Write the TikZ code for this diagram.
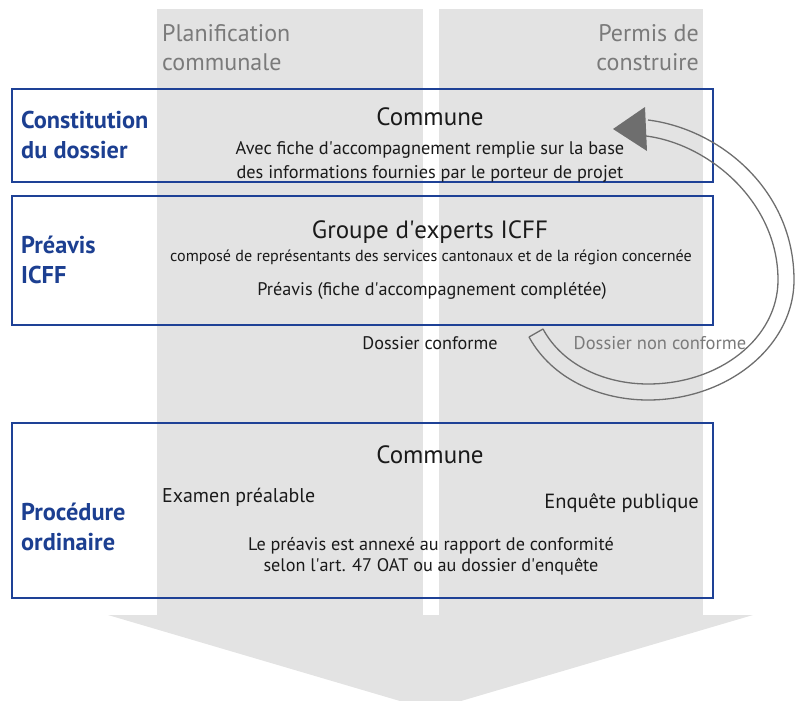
\documentclass[tikz,border=0pt]{standalone}
\usepackage{fontspec}
\setmainfont{PT Sans}
\definecolor{bandgray}{HTML}{E3E3E3}
\definecolor{frameblue}{HTML}{1E4196}
\definecolor{titleblue}{HTML}{1C3F91}
\definecolor{headgray}{HTML}{7A7A7A}
\definecolor{loopgray}{HTML}{6E6E6E}
\definecolor{bodyblack}{HTML}{1A1A1A}
\newcommand{\ap}{\textquotesingle}
\begin{document}
\begin{tikzpicture}[x=1pt,y=-1pt,
  band/.style={fill=bandgray,draw=none},
  stagebox/.style={draw=frameblue,line width=2pt,fill=none,inner sep=0pt,outer sep=0pt},
  stagetitle/.style={text=titleblue,font=\bfseries\fontsize{24.3}{30}\selectfont,align=left,anchor=west,inner sep=0pt},
  colhead/.style={text=headgray,font=\fontsize{24}{29}\selectfont,inner sep=0pt},
  heading/.style={text=bodyblack,font=\fontsize{25}{27}\selectfont,inner sep=0pt},
  bodytext/.style={text=bodyblack,font=\fontsize{18.2}{21}\selectfont,inner sep=0pt,align=center},
  smalltext/.style={text=bodyblack,font=\fontsize{16.1}{18}\selectfont,inner sep=0pt},
  loopline/.style={draw=loopgray,line width=1.3pt,line join=round}]
\useasboundingbox (0,0) rectangle (795,701);

% two lanes forming the shaft of the big downward arrow, and its head
\fill[band] (157,9) rectangle (423,615);
\fill[band] (439,9) rectangle (703,615);
\fill[band] (108,615) -- (753,615) -- (430.5,710) -- cycle;

% lane headings
\node[colhead,anchor=west,align=left] (lanea) at (162,47.5) {Planification\\communale};
\node[colhead,anchor=east,align=right] (laneb) at (699,47.5) {Permis de\\construire};

% stage frames
\node[stagebox,minimum width=701pt,minimum height=93pt] (stage1) at (362.5,135.5) {};
\node[stagebox,minimum width=701pt,minimum height=129pt] (stage2) at (362.5,260.5) {};
\node[stagebox,minimum width=701pt,minimum height=175pt] (stage3) at (362.5,510.5) {};

% stage titles
\node[stagetitle] (t1) at (21,135) {Constitution\\du dossier};
\node[stagetitle] (t2) at (21,260) {Préavis\\ICFF};
\node[stagetitle] (t3) at (21,527) {Procédure\\ordinaire};

% stage 1
\node[heading] (c1) at (430,117) {Commune};
\node[bodytext,font=\fontsize{18.3}{24}\selectfont] (c1b) at (430,162)
  {Avec fiche d\ap accompagnement remplie sur la base\\des informations fournies par le porteur de projet};

% stage 2
\node[heading] (c2) at (430,232) {Groupe d\ap experts ICFF};
\node[smalltext] (c2b) at (431,257) {composé de représentants des services cantonaux et de la région concernée};
\node[bodytext] (c2c) at (432,291) {Préavis (fiche d\ap accompagnement complétée)};

% outcomes
\node[bodytext] (ok) at (430,343) {Dossier conforme};
\node[bodytext,text=headgray,font=\fontsize{18.5}{21}\selectfont] (nok) at (660,343) {Dossier non conforme};

% stage 3
\node[heading] (c3) at (430,455) {Commune};
\node[bodytext,font=\fontsize{19.9}{24}\selectfont,anchor=west] (exam) at (162,497) {Examen préalable};
\node[bodytext,font=\fontsize{20.5}{24}\selectfont,anchor=east] (enq) at (699,503) {Enquête publique};
\node[bodytext] (c3b) at (431,556)
  {Le préavis est annexé au rapport de conformité\\selon l\ap art. 47 OAT ou au dossier d\ap enquête};

% hollow loop arrow sending a non-conforming file back to stage 1
\coordinate (tailout) at (529,337);
\coordinate (tailin) at (543,329);
\coordinate (headout) at (648,120);
\coordinate (headin) at (646,136);
\draw[loopline] (tailout) .. controls (552,379) and (600,400) .. (648,400)
  .. controls (728,400) and (794,346) .. (794,280)
  .. controls (794,190) and (720,129) .. (headout);
\draw[loopline] (tailin) .. controls (563,366) and (606,384) .. (648,384)
  .. controls (720,384) and (778,338) .. (778,280)
  .. controls (778,202) and (709,144) .. (headin);
\draw[loopline] (tailout) -- (tailin);
\fill[loopgray] (613,129) -- (645,107) -- (647,151) -- cycle;
\end{tikzpicture}
\end{document}
